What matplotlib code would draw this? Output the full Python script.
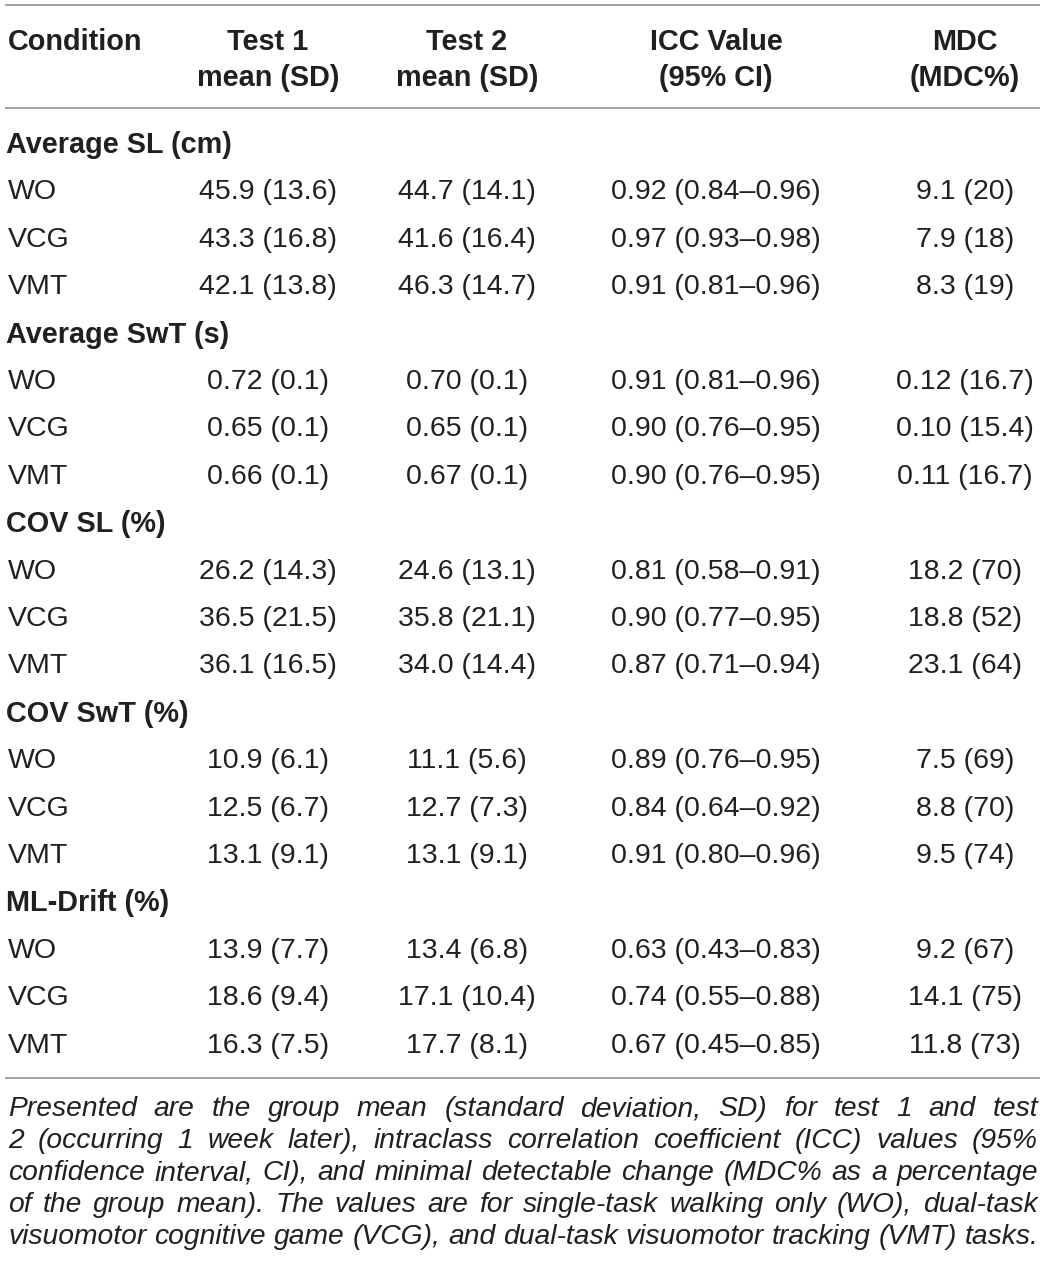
import matplotlib
matplotlib.use("Agg")
import matplotlib.pyplot as plt

plt.rcParams['font.family'] = ['Liberation Sans', 'DejaVu Sans']

headers = ["Condition", "Test 1\nmean (SD)", "Test 2\nmean (SD)", "ICC Value\n(95% CI)", "MDC\n(MDC%)"]
sections = ["Average SL (cm)", "Average SwT (s)", "COV SL (%)", "COV SwT (%)", "ML-Drift (%)"]
conditions = ["WO", "VCG", "VMT"]
test1 = [["45.9 (13.6)", "43.3 (16.8)", "42.1 (13.8)"],
         ["0.72 (0.1)", "0.65 (0.1)", "0.66 (0.1)"],
         ["26.2 (14.3)", "36.5 (21.5)", "36.1 (16.5)"],
         ["10.9 (6.1)", "12.5 (6.7)", "13.1 (9.1)"],
         ["13.9 (7.7)", "18.6 (9.4)", "16.3 (7.5)"]]
test2 = [["44.7 (14.1)", "41.6 (16.4)", "46.3 (14.7)"],
         ["0.70 (0.1)", "0.65 (0.1)", "0.67 (0.1)"],
         ["24.6 (13.1)", "35.8 (21.1)", "34.0 (14.4)"],
         ["11.1 (5.6)", "12.7 (7.3)", "13.1 (9.1)"],
         ["13.4 (6.8)", "17.1 (10.4)", "17.7 (8.1)"]]
icc = [["0.92 (0.84–0.96)", "0.97 (0.93–0.98)", "0.91 (0.81–0.96)"],
       ["0.91 (0.81–0.96)", "0.90 (0.76–0.95)", "0.90 (0.76–0.95)"],
       ["0.81 (0.58–0.91)", "0.90 (0.77–0.95)", "0.87 (0.71–0.94)"],
       ["0.89 (0.76–0.95)", "0.84 (0.64–0.92)", "0.91 (0.80–0.96)"],
       ["0.63 (0.43–0.83)", "0.74 (0.55–0.88)", "0.67 (0.45–0.85)"]]
mdc = [["9.1 (20)", "7.9 (18)", "8.3 (19)"],
       ["0.12 (16.7)", "0.10 (15.4)", "0.11 (16.7)"],
       ["18.2 (70)", "18.8 (52)", "23.1 (64)"],
       ["7.5 (69)", "8.8 (70)", "9.5 (74)"],
       ["9.2 (67)", "14.1 (75)", "11.8 (73)"]]
caption_lines = [
    "Presented are the group mean (standard deviation, SD) for test 1 and test",
    "2 (occurring 1 week later), intraclass correlation coefficient (ICC) values (95%",
    "confidence interval, CI), and minimal detectable change (MDC% as a percentage",
    "of the group mean). The values are for single-task walking only (WO), dual-task",
    "visuomotor cognitive game (VCG), and dual-task visuomotor tracking (VMT) tasks.",
]

W, H = 1045, 1276
fig = plt.figure(figsize=(W / 100, H / 100), dpi=100)
ax = fig.add_axes([0, 0, 1, 1])
ax.set_xlim(0, W)
ax.set_ylim(H, 0)
ax.axis('off')

TXT = '#231f20'
LINE = '#9a9a9a'
FS = 20.5
HFS = 20.8
col_x = [8, 268, 467, 716, 965]

# rules
for y in [5, 108, 1078]:
    ax.plot([5, 1040], [y, y], color=LINE, lw=1.3, solid_capstyle='butt')

# headers
ax.text(col_x[0], 42, headers[0], fontsize=HFS, fontweight='bold', color=TXT, ha='left', va='center')
for j in range(1, 5):
    l1, l2 = headers[j].split("\n")
    ax.text(col_x[j], 42, l1, fontsize=HFS, fontweight='bold', color=TXT, ha='center', va='center')
    ax.text(col_x[j], 78, l2, fontsize=HFS, fontweight='bold', color=TXT, ha='center', va='center')

y = 145
step = 47.4
for s, name in enumerate(sections):
    ax.text(6, y, name, fontsize=HFS, fontweight='bold', color=TXT, ha='left', va='center')
    for r, cond in enumerate(conditions):
        yy = y + step * (r + 1)
        ax.text(col_x[0], yy, cond, fontsize=FS, color=TXT, ha='left', va='center')
        for j, arr in enumerate([test1, test2, icc, mdc]):
            ax.text(col_x[j + 1], yy, arr[s][r], fontsize=FS, color=TXT, ha='center', va='center')
    y += step * 4

# caption, justified
fig.canvas.draw()
renderer = fig.canvas.get_renderer()
CFS = 20.3
cx0, cx1 = 8, 1038
cy = 1109
for i, line in enumerate(caption_lines):
    words = line.split(" ")
    last = (i == len(caption_lines) - 1)
    texts = []
    widths = []
    for w in words:
        t = ax.text(0, cy, w, fontsize=CFS, fontstyle='italic', color=TXT, ha='left', va='center')
        bb = t.get_window_extent(renderer=renderer)
        texts.append(t)
        widths.append(bb.width)
    total = sum(widths)
    if last:
        t1 = ax.text(0, 0, "a a", fontsize=CFS, fontstyle='italic')
        t2 = ax.text(0, 0, "aa", fontsize=CFS, fontstyle='italic')
        gap = t1.get_window_extent(renderer=renderer).width - t2.get_window_extent(renderer=renderer).width
        t1.remove()
        t2.remove()
    else:
        gap = (cx1 - cx0 - total) / (len(words) - 1)
    x = cx0
    for t, wdt in zip(texts, widths):
        t.set_x(x)
        x += wdt + gap
    cy += 32

fig.savefig("out.png", dpi=100)
